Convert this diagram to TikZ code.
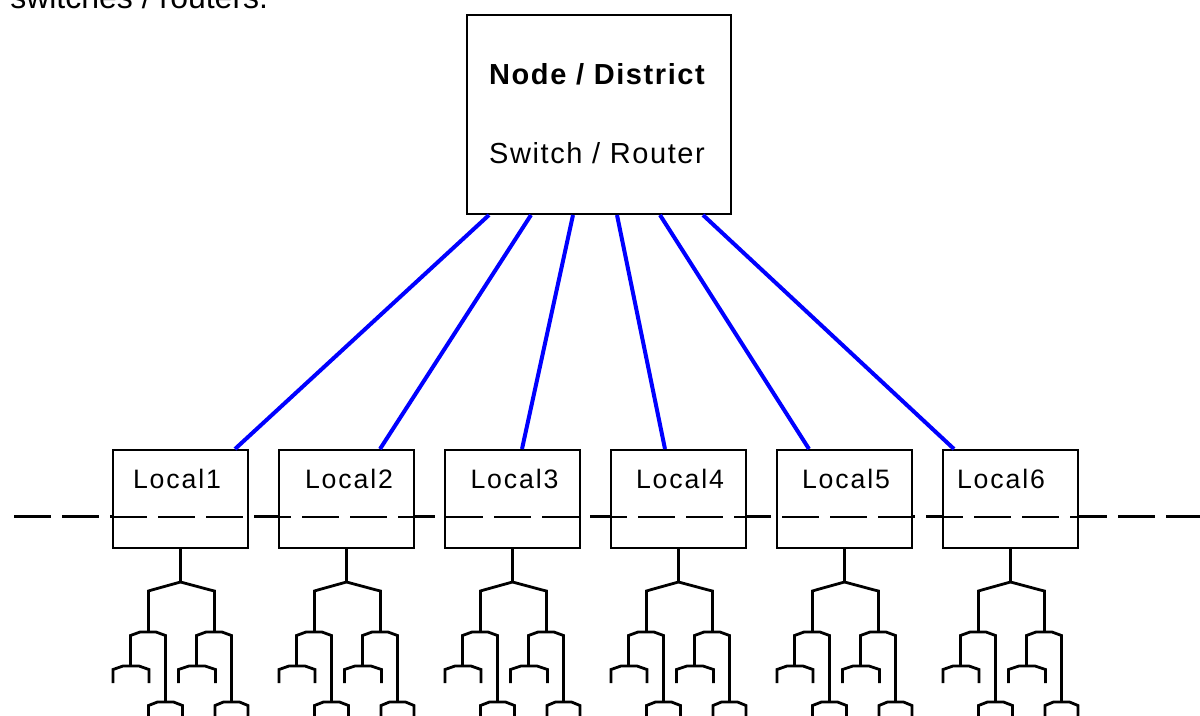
\documentclass[tikz,border=0pt]{standalone}
\usepackage{fontspec}
\setmainfont{Liberation Sans}
\newfontfamily\hubfont[LetterSpace=5.5]{Liberation Sans}
\newfontfamily\localfont[LetterSpace=7]{Liberation Sans}
\usetikzlibrary{calc}

% a fork: flat-topped arch centred at #1 with its top at #2,
% half width #3, left leg down to #4, right leg down to #5
\newcommand\fork[5]{%
  \draw[tree] ({#1-#3},#4) -- ({#1-#3},{#2+3.5}) -- ({#1-8},#2) -- ({#1+8},#2)
    -- ({#1+#3},{#2+3.5}) -- ({#1+#3},#5);}

\begin{document}
\begin{tikzpicture}[x=0.75pt,y=-0.75pt,
  hub/.style={draw, line width=1.5pt, fill=white, minimum width=198pt,
    minimum height=149.25pt, inner sep=0pt},
  localbox/.style={draw, line width=1.5pt, fill=white, minimum width=101.25pt,
    minimum height=73.5pt, inner sep=0pt},
  uplink/.style={draw=blue, line width=3pt},
  busthick/.style={line width=2.25pt, dash pattern=on 27.75pt off 8.25pt},
  busthin/.style={line width=1.5pt, dash pattern=on 27.75pt off 8.25pt},
  tree/.style={line width=2.1pt, line join=miter},
  subtree/.pic={
    \draw[tree] (0,0) -- (0,33);
    \draw[tree] (-32,83) -- (-32,42) -- (-27,40.5) -- (0,33) -- (28,40.5)
      -- (34,42) -- (34,83);
    \fork{-32.5}{83}{17.5}{117}{153}
    \fork{-49.5}{117}{18}{134}{134}
    \fork{-15}{153}{17}{180}{180}
    \fork{33.5}{83}{17.5}{117}{153}
    \fork{16.5}{117}{18.5}{134}{134}
    \fork{51}{153}{16.5}{180}{180}
  }
]
\useasboundingbox (0,0) rectangle (1200,715);

% caption line running off the top edge
\node[anchor=base west, inner sep=0pt, font=\fontsize{24}{28}\selectfont]
  (caption) at (10,8) {switches / routers.};

% the shared bus behind the local boxes
\draw[busthick] (14,516.5) -- (1215,516.5);

% district switch
\node[hub] (hub) at (599,114.5) {};
\node[anchor=base, inner sep=0pt, font=\hubfont\bfseries\fontsize{21.75}{26}\selectfont]
  (hubtitle) at (597,84) {Node / District};
\node[anchor=base, inner sep=0pt, font=\hubfont\fontsize{21.75}{26}\selectfont]
  (hubsub) at (597,163) {Switch / Router};

% local switches, their labels and the trees below them
\foreach \i/\lx in {1/177, 2/349, 3/514.5, 4/680, 5/846, 6/1001}{
  \node[localbox] (l\i) at ({180.5+166*(\i-1)},499) {};
  \node[anchor=base, inner sep=0pt, font=\localfont\fontsize{20}{24}\selectfont]
    (lt\i) at (\lx,488) {Local\i};
  \pic at (l\i.south) {subtree};
}

% thinner bus segment where it passes through the boxes
\begin{scope}
  \clip (l1.north west) rectangle (l1.south east)
        (l2.north west) rectangle (l2.south east)
        (l3.north west) rectangle (l3.south east)
        (l4.north west) rectangle (l4.south east)
        (l5.north west) rectangle (l5.south east)
        (l6.north west) rectangle (l6.south east);
  \draw[busthin] (14,516.5) -- (1215,516.5);
\end{scope}

% uplinks from the district switch
\foreach \i/\t/\b in {1/23/123, 2/65/102, 3/107/78, 4/151/55, 5/194/33, 6/237/12}{
  \draw[uplink] ($(hub.south west)+(\t,0)$) -- ($(l\i.north west)+(\b,0)$);
}
\end{tikzpicture}
\end{document}
